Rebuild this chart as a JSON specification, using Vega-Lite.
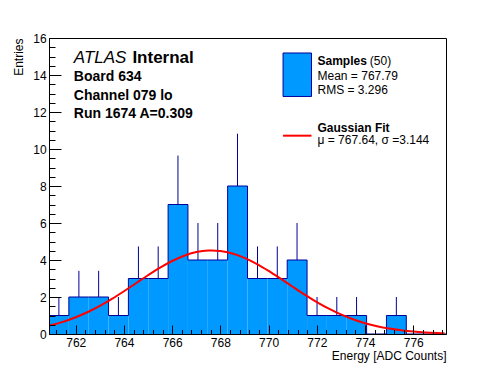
{
  "$schema": "https://vega.github.io/schema/vega-lite/v6.json",
  "width": 397,
  "height": 296,
  "autosize": {"type": "none"},
  "padding": {"left": 49, "top": 38, "right": 50, "bottom": 38},
  "background": "white",
  "config": {
    "view": {"stroke": "black", "strokeWidth": 1},
    "font": "Liberation Sans",
    "axis": {
      "domainColor": "black", "tickColor": "black", "labelColor": "black", "titleColor": "black",
      "labelFont": "Liberation Sans", "titleFont": "Liberation Sans",
      "labelFontSize": 12, "titleFontSize": 12, "titleFontWeight": "normal",
      "grid": false, "labelOverlap": false, "labelFlush": false, "zindex": 1, "tickWidth": 1
    }
  },
  "resolve": {"axis": {"x": "independent", "y": "independent"}},
  "datasets": {
    "bins": [
      {"lo": 760.890, "hi": 761.7135, "mid": 761.30, "count": 1, "up": 2},
      {"lo": 761.7135, "hi": 762.537, "mid": 762.13, "count": 2, "up": 3.414},
      {"lo": 762.537, "hi": 763.3605, "mid": 762.95, "count": 2, "up": 3.414},
      {"lo": 763.3605, "hi": 764.184, "mid": 763.77, "count": 1, "up": 2},
      {"lo": 764.184, "hi": 765.0075, "mid": 764.60, "count": 3, "up": 4.732},
      {"lo": 765.0075, "hi": 765.831, "mid": 765.42, "count": 3, "up": 4.732},
      {"lo": 765.831, "hi": 766.6545, "mid": 766.24, "count": 7, "up": 9.646},
      {"lo": 766.6545, "hi": 767.478, "mid": 767.07, "count": 4, "up": 6},
      {"lo": 767.478, "hi": 768.3015, "mid": 767.89, "count": 4, "up": 6},
      {"lo": 768.3015, "hi": 769.125, "mid": 768.71, "count": 8, "up": 10.828},
      {"lo": 769.125, "hi": 769.9485, "mid": 769.54, "count": 3, "up": 4.732},
      {"lo": 769.9485, "hi": 770.772, "mid": 770.36, "count": 3, "up": 4.732},
      {"lo": 770.772, "hi": 771.5955, "mid": 771.18, "count": 4, "up": 6},
      {"lo": 771.5955, "hi": 772.419, "mid": 772.01, "count": 1, "up": 2},
      {"lo": 772.419, "hi": 773.2425, "mid": 772.83, "count": 1, "up": 2},
      {"lo": 773.2425, "hi": 774.066, "mid": 773.65, "count": 1, "up": 2},
      {"lo": 774.066, "hi": 774.8895, "mid": 774.48, "count": 0, "up": 0},
      {"lo": 774.8895, "hi": 775.713, "mid": 775.30, "count": 1, "up": 2},
      {"lo": 775.713, "hi": 776.5365, "mid": 776.12, "count": 0, "up": 0},
      {"lo": 776.5365, "hi": 777.36, "mid": 776.95, "count": 0, "up": 0},
      {"lo": 777.36, "hi": 777.36, "mid": 777.36, "count": 0, "up": 0}
    ],
    "fit": [
      {"x": 760.9, "y": 0.454}, {"x": 761.0, "y": 0.486}, {"x": 761.5, "y": 0.671},
      {"x": 762.0, "y": 0.905}, {"x": 762.5, "y": 1.188}, {"x": 763.0, "y": 1.521},
      {"x": 763.5, "y": 1.899}, {"x": 764.0, "y": 2.312}, {"x": 764.5, "y": 2.745},
      {"x": 765.0, "y": 3.177}, {"x": 765.5, "y": 3.585}, {"x": 766.0, "y": 3.945},
      {"x": 766.5, "y": 4.233}, {"x": 767.0, "y": 4.427}, {"x": 767.5, "y": 4.516},
      {"x": 767.64, "y": 4.52}, {"x": 768.0, "y": 4.491}, {"x": 768.5, "y": 4.354},
      {"x": 769.0, "y": 4.116}, {"x": 769.5, "y": 3.795}, {"x": 770.0, "y": 3.410},
      {"x": 770.5, "y": 2.989}, {"x": 771.0, "y": 2.553}, {"x": 771.5, "y": 2.128},
      {"x": 772.0, "y": 1.728}, {"x": 772.5, "y": 1.369}, {"x": 773.0, "y": 1.057},
      {"x": 773.5, "y": 0.796}, {"x": 774.0, "y": 0.584}, {"x": 774.5, "y": 0.418},
      {"x": 775.0, "y": 0.292}, {"x": 775.5, "y": 0.199}, {"x": 776.0, "y": 0.132},
      {"x": 776.5, "y": 0.0853}, {"x": 777.0, "y": 0.0538}, {"x": 777.3, "y": 0.0403}
    ],
    "bold14": [
      {"x": 761.92, "y": 13.69, "t": "Board 634"},
      {"x": 761.92, "y": 12.66, "t": "Channel 079 lo"},
      {"x": 761.92, "y": 11.67, "t": "Run 1674 A=0.309"}
    ],
    "legendBold": [
      {"x": 772.03, "y": 14.56, "t": "Samples"},
      {"x": 772.03, "y": 10.92, "t": "Gaussian Fit"}
    ],
    "legendNormal": [
      {"x": 774.20, "y": 14.56, "t": "(50)"},
      {"x": 772.03, "y": 13.75, "t": "Mean = 767.79"},
      {"x": 772.03, "y": 12.99, "t": "RMS = 3.296"},
      {"x": 772.03, "y": 10.27, "t": "μ = 767.64, σ =3.144"}
    ]
  },
  "layer": [
    {
      "data": {"name": "bins"},
      "mark": {"type": "rect", "fill": "#0099ff", "strokeWidth": 0},
      "encoding": {
        "x": {"field": "lo", "type": "quantitative",
          "scale": {"domain": [760.89, 777.36], "nice": false, "zero": false},
          "axis": {
            "orient": "bottom",
            "title": "Energy [ADC Counts]",
            "titleAnchor": "end",
            "titlePadding": 1.5,
            "values": [762, 764, 766, 768, 770, 772, 774, 776],
            "format": "d",
            "ticks": false,
            "labelPadding": 3.8,
            "zindex": 2
          }
        },
        "x2": {"field": "hi"},
        "y": {"field": "count", "type": "quantitative",
          "scale": {"domain": [0, 16], "nice": false},
          "axis": {
            "orient": "left",
            "title": "Entries",
            "titleAnchor": "end",
            "titlePadding": 7.5,
            "values": [0, 2, 4, 6, 8, 10, 12, 14, 16],
            "format": "d",
            "ticks": false,
            "labelPadding": 2.8,
            "zindex": 2
          }
        },
        "y2": {"datum": 0}
      }
    },
    {
      "data": {"name": "bins"},
      "mark": {"type": "line", "interpolate": "step-after", "color": "#000099", "strokeWidth": 1},
      "encoding": {
        "x": {"field": "lo", "type": "quantitative",
          "axis": {"orient": "top", "offset": -296, "values": [762, 764, 766, 768, 770, 772, 774, 776], "ticks": true, "tickSize": 9, "labels": false, "domain": false, "title": null, "zindex": 2}},
        "y": {"field": "count", "type": "quantitative",
          "axis": {"orient": "right", "offset": -397, "values": [0, 2, 4, 6, 8, 10, 12, 14, 16], "ticks": true, "tickSize": 12, "labels": false, "domain": false, "title": null, "zindex": 2}}
      }
    },
    {
      "data": {"name": "bins"},
      "transform": [{"filter": "datum.count > 0"}],
      "mark": {"type": "rule", "color": "#000099", "strokeWidth": 1},
      "encoding": {
        "x": {"field": "mid", "type": "quantitative",
          "axis": {"orient": "top", "offset": -296, "values": [761.2, 761.6, 762.4, 762.8, 763.2, 763.6, 764.4, 764.8, 765.2, 765.6, 766.4, 766.8, 767.2, 767.6, 768.4, 768.8, 769.2, 769.6, 770.4, 770.8, 771.2, 771.6, 772.4, 772.8, 773.2, 773.6, 774.4, 774.8, 775.2, 775.6, 776.4, 776.8, 777.2], "ticks": true, "tickSize": 4.5, "labels": false, "domain": false, "title": null, "zindex": 2}},
        "y": {"field": "count", "type": "quantitative",
          "axis": {"orient": "right", "offset": -397, "values": [0.5, 1, 1.5, 2.5, 3, 3.5, 4.5, 5, 5.5, 6.5, 7, 7.5, 8.5, 9, 9.5, 10.5, 11, 11.5, 12.5, 13, 13.5, 14.5, 15, 15.5], "ticks": true, "tickSize": 6, "labels": false, "domain": false, "title": null, "zindex": 2}},
        "y2": {"field": "up"}
      }
    },
    {
      "data": {"name": "fit"},
      "mark": {"type": "line", "color": "#ff0000", "strokeWidth": 2, "interpolate": "monotone"},
      "encoding": {
        "x": {"field": "x", "type": "quantitative", "axis": null},
        "y": {"field": "y", "type": "quantitative", "axis": null}
      }
    },
    {
      "data": {"values": [{"x": 761.92, "y": 14.65, "t": "ATLAS"}]},
      "mark": {"type": "text", "align": "left", "baseline": "alphabetic", "fontSize": 17, "fontStyle": "italic", "font": "Liberation Sans", "color": "black"},
      "encoding": {
        "x": {"field": "x", "type": "quantitative", "axis": null},
        "y": {"field": "y", "type": "quantitative", "axis": null},
        "text": {"field": "t"}
      }
    },
    {
      "data": {"values": [{"x": 764.35, "y": 14.65, "t": "Internal"}]},
      "mark": {"type": "text", "align": "left", "baseline": "alphabetic", "fontSize": 17, "fontWeight": "bold", "font": "Liberation Sans", "color": "black"},
      "encoding": {
        "x": {"field": "x", "type": "quantitative", "axis": null},
        "y": {"field": "y", "type": "quantitative", "axis": null},
        "text": {"field": "t"}
      }
    },
    {
      "data": {"name": "bold14"},
      "mark": {"type": "text", "align": "left", "baseline": "alphabetic", "fontSize": 14, "fontWeight": "bold", "font": "Liberation Sans", "color": "black"},
      "encoding": {
        "x": {"field": "x", "type": "quantitative", "axis": null},
        "y": {"field": "y", "type": "quantitative", "axis": null},
        "text": {"field": "t"}
      }
    },
    {
      "data": {"values": [{"x": 770.60, "x2": 771.78, "y": 12.84, "y2": 15.19}]},
      "mark": {"type": "rect", "fill": "#0099ff", "stroke": "#000099", "strokeWidth": 1},
      "encoding": {
        "x": {"field": "x", "type": "quantitative", "axis": null},
        "x2": {"field": "x2"},
        "y": {"field": "y", "type": "quantitative", "axis": null},
        "y2": {"field": "y2"}
      }
    },
    {
      "data": {"values": [{"x": 770.60, "x2": 771.78, "y": 10.72}]},
      "mark": {"type": "rule", "color": "#ff0000", "strokeWidth": 2},
      "encoding": {
        "x": {"field": "x", "type": "quantitative", "axis": null},
        "x2": {"field": "x2"},
        "y": {"field": "y", "type": "quantitative", "axis": null}
      }
    },
    {
      "data": {"name": "legendBold"},
      "mark": {"type": "text", "align": "left", "baseline": "alphabetic", "fontSize": 12, "fontWeight": "bold", "font": "Liberation Sans", "color": "black"},
      "encoding": {
        "x": {"field": "x", "type": "quantitative", "axis": null},
        "y": {"field": "y", "type": "quantitative", "axis": null},
        "text": {"field": "t"}
      }
    },
    {
      "data": {"name": "legendNormal"},
      "mark": {"type": "text", "align": "left", "baseline": "alphabetic", "fontSize": 12, "font": "Liberation Sans", "color": "black"},
      "encoding": {
        "x": {"field": "x", "type": "quantitative", "axis": null},
        "y": {"field": "y", "type": "quantitative", "axis": null},
        "text": {"field": "t"}
      }
    }
  ]
}
